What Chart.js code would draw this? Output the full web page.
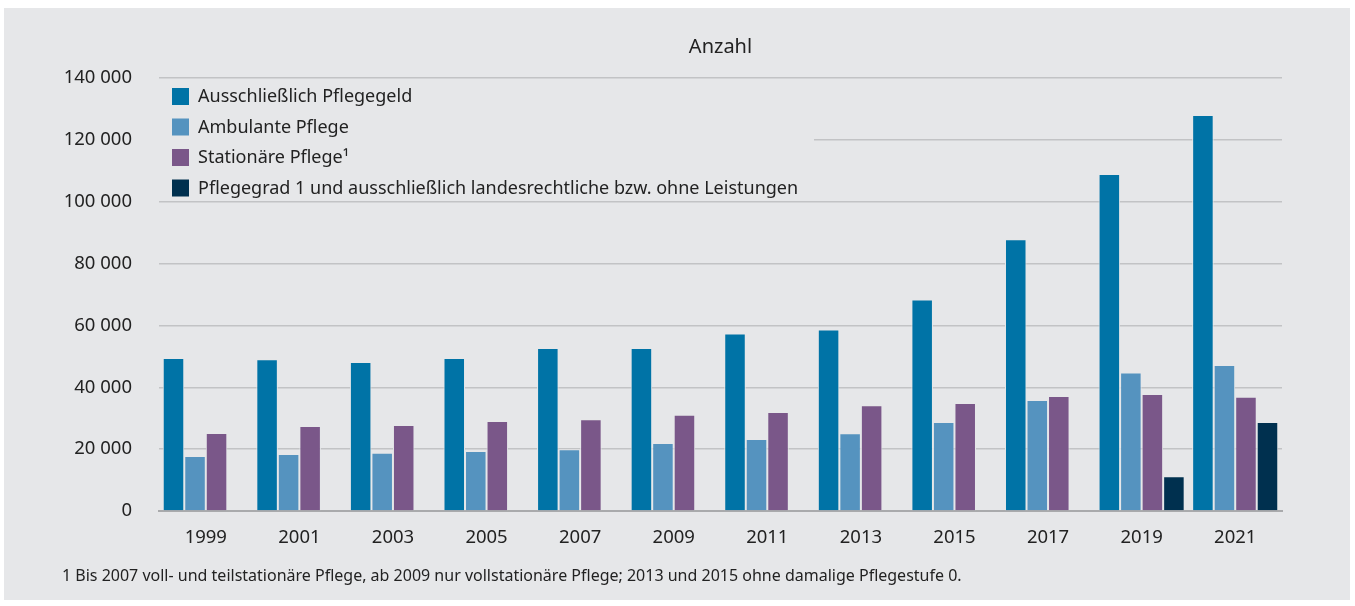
<!DOCTYPE html>
<html>
<head>
<meta charset="utf-8">
<script src="https://cdn.jsdelivr.net/npm/chart.js@4.4.0/dist/chart.umd.min.js"></script>
<style>
  body { margin: 0; background: #ffffff; }
  #box { position: absolute; left: 4px; top: 8px; width: 1346px; height: 592px; background: #e6e7e9; }
  #myChart { position: absolute; left: 0; top: 0; }
  #note { position: absolute; left: 58px; top: 556px; font-family: "Noto Sans", sans-serif; font-size: 16px; color: #222; }
</style>
</head>
<body>
<div id="box">
  <canvas id="myChart" width="1346" height="592"></canvas>
  <div id="note">1 Bis 2007 voll- und teilstationäre Pflege, ab 2009 nur vollstationäre Pflege; 2013 und 2015 ohne damalige Pflegestufe 0.</div>
</div>
<script>
// data
var years = ["1999", "2001", "2003", "2005", "2007", "2009", "2011", "2013", "2015", "2017", "2019", "2021"];
var pflegegeld = [49500, 49100, 48200, 49500, 52700, 52700, 57400, 58700, 68400, 87900, 109000, 128000];
var ambulant = [17800, 18400, 18800, 19400, 20000, 22000, 23300, 25100, 28800, 35900, 44800, 47200];
var stationaer = [25200, 27500, 27800, 29100, 29700, 31100, 32000, 34200, 34900, 37200, 37800, 36900];
var pflegegrad1 = [null, null, null, null, null, null, null, null, null, null, 11200, 28800];

var seriesLabels = [
    "Ausschließlich Pflegegeld",
    "Ambulante Pflege",
    "Stationäre Pflege¹",
    "Pflegegrad 1 und ausschließlich landesrechtliche bzw. ohne Leistungen"
];
var seriesColors = ["#0073a6", "#5593bf", "#7a5789", "#00304f"];

var bg = "#e6e7e9";
var fontName = "'Noto Sans', sans-serif";

//title and legend drawn on the chart area
var extras = {
    id: "extras",
    beforeDatasetsDraw: function (chart) {
        var c = chart.ctx;
        var a = chart.chartArea;
        c.save();
        // legend box hides the grid lines behind it
        c.fillStyle = bg;
        c.fillRect(a.left, a.top + 3, 655, 120);
        c.font = "18px " + fontName;
        c.textBaseline = "middle";
        c.textAlign = "left";
        for (var i = 0; i < seriesLabels.length; i++) {
            var y = a.top + 18 + i * 30.5;
            c.fillStyle = seriesColors[i];
            c.fillRect(a.left + 13, y - 8, 17, 17);
            c.fillStyle = "#222";
            c.fillText(seriesLabels[i], a.left + 39, y + 1);
        }
        c.textAlign = "center";
        c.font = "20px " + fontName;
        c.fillText("Anzahl", (a.left + a.right) / 2, 39);
        c.restore();
    }
};

var ctx = document.getElementById("myChart").getContext("2d");
window.myChart = new Chart(ctx, {
    type: "bar",
    data: {
        labels: years,
        datasets: [pflegegeld, ambulant, stationaer, pflegegrad1].map(function (d, i) {
            return {
                label: seriesLabels[i],
                data: d,
                backgroundColor: seriesColors[i],
                borderColor: bg,
                borderWidth: 1,
                categoryPercentage: 0.92,
                barPercentage: 1.0
            };
        })
    },
    options: {
        responsive: false,
        animation: false,
        layout: { padding: { top: 70, right: 68, left: 0, bottom: 0 } },
        plugins: {
            legend: { display: false },
            tooltip: { enabled: false }
        },
        scales: {
            x: {
                grid: { display: false, drawTicks: false },
                border: { color: "#a9aaac", width: 2 },
                ticks: { color: "#222", font: { family: fontName, size: 18.5 }, padding: 16 },
                afterFit: function (s) { s.height = 89; }
            },
            y: {
                min: 0,
                max: 140000,
                ticks: {
                    stepSize: 20000,
                    color: "#222",
                    padding: 27,
                    font: { family: fontName, size: 18.5 },
                    callback: function (v) {
                        return String(v).replace(/\B(?=(\d{3})+(?!\d))/g, " ");
                    }
                },
                grid: { color: "#c2c3c5", lineWidth: 1.5, drawTicks: false },
                border: { display: false },
                afterFit: function (s) { s.width = 155; }
            }
        }
    },
    plugins: [extras]
});
</script>
</body>
</html>
